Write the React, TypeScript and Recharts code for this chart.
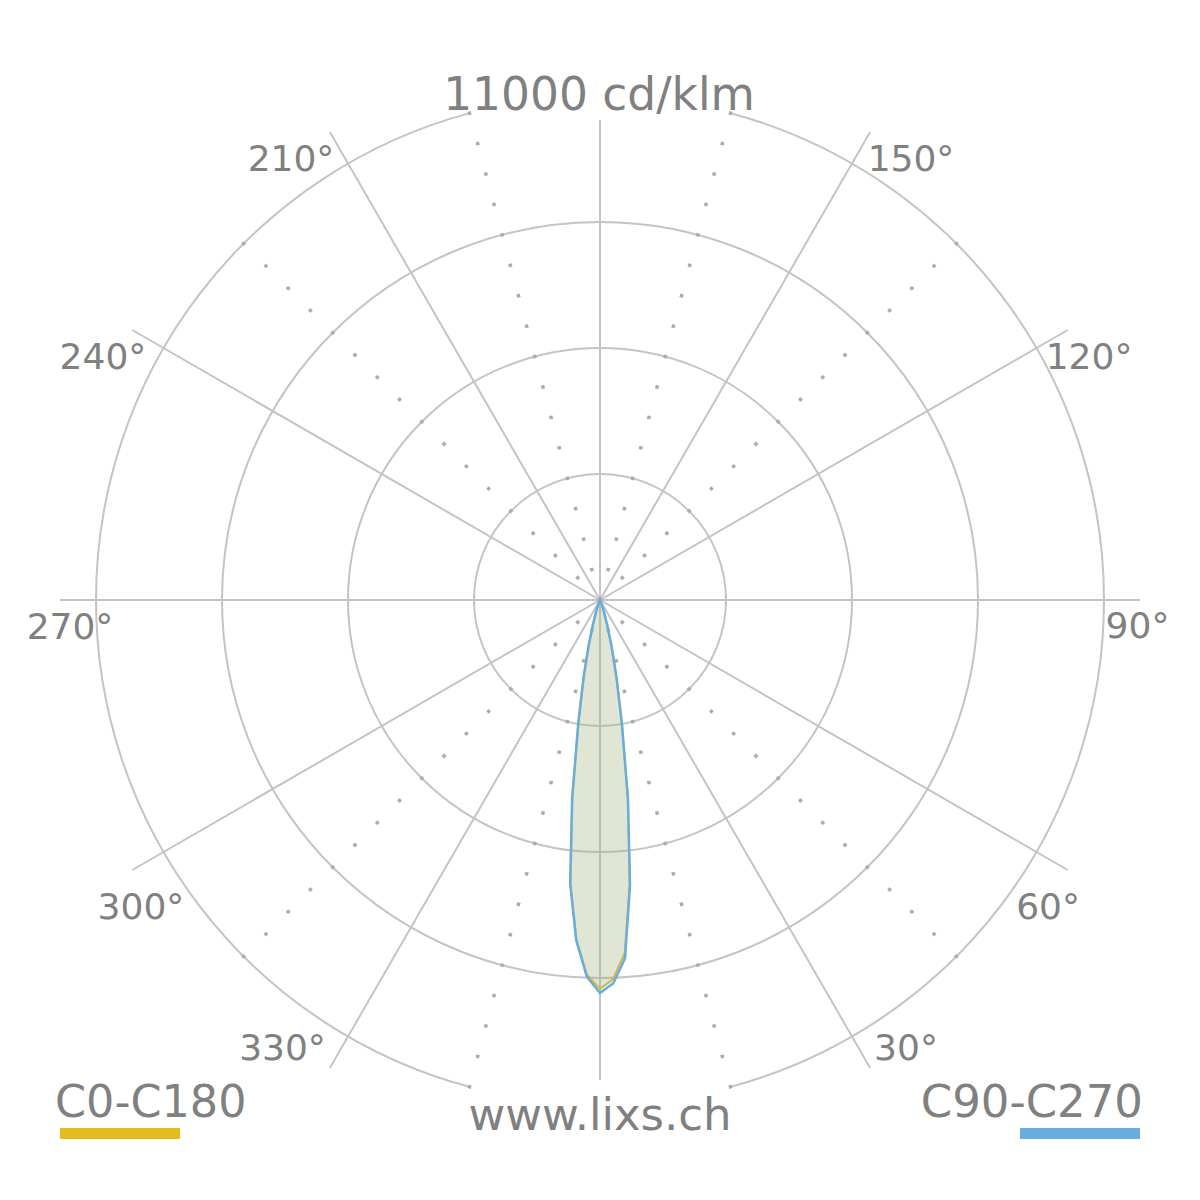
import React from 'react';
import { RadarChart, Radar, PolarGrid, PolarAngleAxis, PolarRadiusAxis } from 'recharts';

// ---------------- data ----------------
const GAMMA_STEP = 2; // degrees between samples around the full circle
const gammaAngles = [0, 2, 4, 6, 8, 10, 12, 14, 16, 18, 20, 22, 24];
// C0-C180 plane (cd/klm): C0 = right half, C180 = left half
const c0Values = [8490, 8272, 7726, 6220, 4365, 2750, 1724, 1026, 567, 306, 153, 65, 22];
const c180Values = [8490, 8184, 7421, 6198, 4343, 2706, 1702, 1004, 567, 284, 153, 65, 22];
// C90-C270 plane (cd/klm): C90 = right half, C270 = left half
const c90Values = [8577, 8370, 7835, 6264, 4387, 2772, 1746, 1048, 589, 306, 153, 65, 22];
const c270Values = [8577, 8228, 7442, 6220, 4365, 2728, 1724, 1026, 567, 306, 153, 65, 22];
const seriesNames = ['C0-C180', 'C90-C270'];
const angleTickLabels = [30, 60, 90, 120, 150, 210, 240, 270, 300, 330];
const scaleMax = 11000;
const unitLabel = 'cd/klm';
const siteLabel = 'www.lixs.ch';

// ---------------- layout / style ----------------
const CX = 600;
const CY = 600;
const R_SPOKE = 540;
const R_OUTER = 504;
const RINGS = [126, 252, 378];
const RADIUS_MAX = (scaleMax * R_SPOKE) / R_OUTER;
const GRID = '#c4c4c4';
const DOT = '#acacac';
const TEXT = '#808080';
const YELLOW = '#E4BE1E';
const BLUE = '#68ADDE';
const FONT = 'DejaVu Sans';

const SPOKES = [-60, -30, 0, 30, 60, 120, 150, 180, 210, 240];
const DOT_ANGLES = [75, 105, 45, 135, -75, -105, -45, -135];
const DOT_DASH = '1.75 28 ' + Array(15).fill('3.5 28').join(' ') + ' 3.5 2000';
const CIRC = 2 * Math.PI * R_OUTER;
const DEG = CIRC / 360;
const OUTER_DASH = `${75 * DEG} ${30 * DEG} ${150 * DEG} ${30 * DEG} ${75 * DEG} 0`;

const LABEL_OFFSETS: Record<number, [number, number]> = {
  150: [41, 38.6],
  120: [21.4, 39],
  90: [-2.5, 38],
  60: [-19.6, 49],
  30: [36, -7.6],
  330: [-47.5, -7.6],
  300: [8.6, 49],
  270: [10, 39],
  240: [-29.4, 39],
  210: [-39, 38.6],
};

const valueAt = (arr: number[], gamma: number) => {
  const i = gammaAngles.indexOf(gamma);
  return i >= 0 ? arr[i] : 0;
};

const data: { angle: number; c0c180: number; c90c270: number }[] = [];
for (let a = 0; a < 360; a += GAMMA_STEP) {
  const right = a <= 180;
  const g = right ? a : 360 - a;
  data.push({
    angle: a,
    c0c180: valueAt(right ? c0Values : c180Values, g),
    c90c270: valueAt(right ? c90Values : c270Values, g),
  });
}

const AngleTick = (props: any) => {
  const { x, y, payload } = props;
  const v = payload?.value;
  if (!angleTickLabels.includes(v)) return <g />;
  const dx = x - CX;
  const dy = y - CY;
  const d = Math.hypot(dx, dy) || 1;
  const ex = CX + (dx / d) * R_SPOKE;
  const ey = CY + (dy / d) * R_SPOKE;
  const off = LABEL_OFFSETS[v] || [0, 0];
  return (
    <text x={ex + off[0]} y={ey + off[1]} textAnchor="middle" fill={TEXT} fontSize={36} fontFamily={FONT}>
      {`${v}°`}
    </text>
  );
};

export default function App() {
  return (
    <div style={{ position: 'absolute', left: 0, top: 0, width: 1200, height: 1200, background: '#fff' }}>
      <RadarChart
        width={1200}
        height={1200}
        data={data}
        cx={CX}
        cy={CY}
        outerRadius={R_SPOKE}
        startAngle={-90}
        endAngle={270}
        margin={{ top: 0, right: 0, bottom: 0, left: 0 }}
      >
        <PolarGrid gridType="circle" polarAngles={SPOKES} polarRadius={RINGS} stroke={GRID} strokeWidth={2} />
        <PolarGrid gridType="circle" polarAngles={[90, -90]} polarRadius={[0]} stroke={GRID} strokeWidth={2} strokeDasharray="480 2000" />
        <PolarGrid gridType="circle" radialLines={false} polarAngles={[]} polarRadius={[R_OUTER]} stroke={GRID} strokeWidth={2} strokeDasharray={OUTER_DASH} />
        <PolarGrid gridType="circle" polarAngles={DOT_ANGLES} polarRadius={[0]} stroke={DOT} strokeWidth={3.5} strokeDasharray={DOT_DASH} />
        <PolarRadiusAxis type="number" domain={[0, RADIUS_MAX]} tick={false} axisLine={false} tickLine={false} />
        <PolarAngleAxis
          dataKey="angle"
          type="number"
          domain={[0, 360]}
          ticks={angleTickLabels}
          tick={AngleTick}
          tickLine={false}
          axisLine={false}
        />
        <Radar
          name={seriesNames[0]}
          dataKey="c0c180"
          stroke={YELLOW}
          strokeWidth={2}
          fill={YELLOW}
          fillOpacity={0.2}
          dot={false}
          isAnimationActive={false}
        />
        <Radar
          name={seriesNames[1]}
          dataKey="c90c270"
          stroke={BLUE}
          strokeWidth={2.5}
          fill={BLUE}
          fillOpacity={0.18}
          dot={false}
          isAnimationActive={false}
        />
        <text x={599} y={110} textAnchor="middle" fill={TEXT} fontSize={45.5} fontFamily={FONT}>
          {`${scaleMax} ${unitLabel}`}
        </text>
        <text x={600} y={1130} textAnchor="middle" fill={TEXT} fontSize={45} fontFamily={FONT}>
          {siteLabel}
        </text>
        <text x={55} y={1117} textAnchor="start" fill={TEXT} fontSize={44.5} fontFamily={FONT}>
          {seriesNames[0]}
        </text>
        <rect x={60} y={1128} width={120} height={11} fill={YELLOW} />
        <text x={1143} y={1117} textAnchor="end" fill={TEXT} fontSize={45} fontFamily={FONT}>
          {seriesNames[1]}
        </text>
        <rect x={1020} y={1128} width={120} height={11} fill={BLUE} />
      </RadarChart>
    </div>
  );
}
